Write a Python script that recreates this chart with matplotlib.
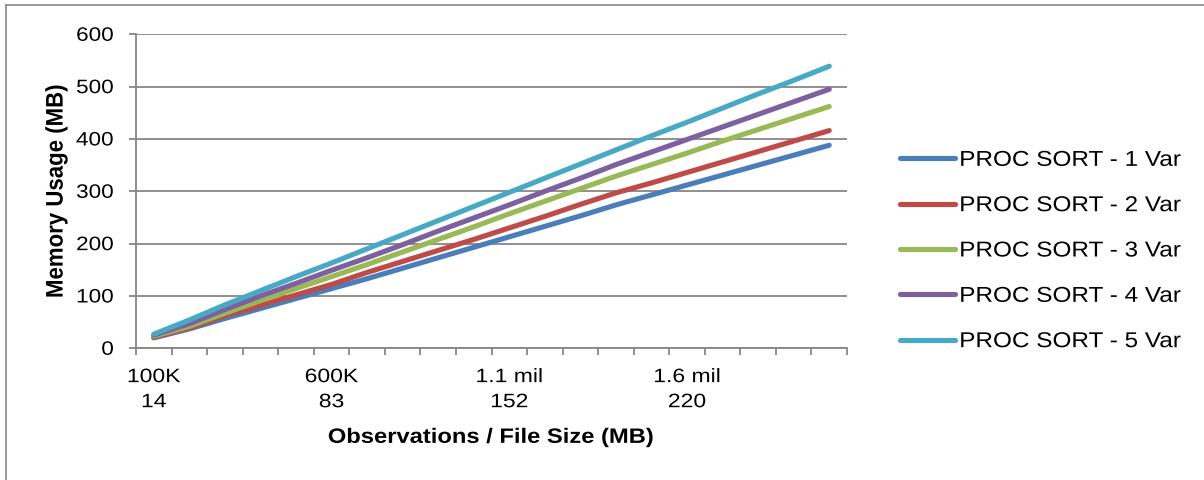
import matplotlib
matplotlib.use('Agg')
import matplotlib.pyplot as plt
from matplotlib.lines import Line2D
from matplotlib.patheffects import AbstractPathEffect
from matplotlib.transforms import Affine2D
import numpy as np

plt.rcParams['font.family'] = ['Liberation Sans', 'DejaVu Sans']

# memory usage (MB) for 100K .. 2.0 mil observations, step 100K
var1 = [20, 37, 57, 76, 95, 114, 133, 153, 173, 193, 213, 233, 253, 274, 293, 312, 331, 350, 369, 388]
var2 = [21, 39, 62, 82, 102, 122, 145, 166, 187, 208, 230, 252, 275, 297, 316, 336, 356, 376, 396, 416]
var3 = [23, 42, 67, 91, 114, 137, 160, 184, 208, 232, 257, 281, 305, 329, 351, 373, 396, 418, 440, 462]
var4 = [25, 47, 74, 100, 124, 149, 173, 198, 224, 249, 274, 300, 325, 351, 375, 399, 423, 447, 471, 495]
var5 = [27, 54, 83, 110, 137, 163, 190, 217, 244, 271, 298, 325, 352, 379, 406, 432, 459, 486, 512, 539]

series = [var1, var2, var3, var4, var5]
names = ['PROC SORT - 1 Var', 'PROC SORT - 2 Var', 'PROC SORT - 3 Var',
         'PROC SORT - 4 Var', 'PROC SORT - 5 Var']
colors = ['#4A7EBB', '#BE4B48', '#98B954', '#7D60A0', '#46AAC5']

label_cats = [0, 5, 10, 15]
label_text = ['100K\n14', '600K\n83', '1.1 mil\n152', '1.6 mil\n220']


# the original text looks horizontally widened, so stretch glyphs a bit
# (along the text for normal labels, across it for the rotated y label)
class Stretch(AbstractPathEffect):
    def __init__(self, s, anchor='center', across=False):
        super().__init__()
        self.s = s
        self.anchor = anchor
        self.across = across

    def draw_path(self, renderer, gc, tpath, affine, rgbFace=None):
        v = tpath.vertices
        if len(v) == 0:
            return
        if self.across:
            ref = (v[:, 1].min() + v[:, 1].max()) / 2
            t = Affine2D().translate(0, -ref).scale(1, self.s).translate(0, ref)
        else:
            xs = v[:, 0]
            if self.anchor == 'left':
                ref = xs.min()
            elif self.anchor == 'right':
                ref = xs.max()
            else:
                ref = (xs.min() + xs.max()) / 2
            t = Affine2D().translate(-ref, 0).scale(self.s, 1).translate(ref, 0)
        renderer.draw_path(gc, tpath, t + affine, rgbFace)


fig = plt.figure(figsize=(12.04, 4.8), dpi=100)
ax = fig.add_axes([136 / 1204, 1 - 348.3 / 480, 711 / 1204, 314 / 480])

x = np.arange(len(var1))
for s, n, c in zip(series, names, colors):
    ax.plot(x, s, color=c, lw=3.7, label=n, solid_capstyle='round', solid_joinstyle='round')

grid_c = '#868686'
ax.set_ylim(0, 600)
ax.set_yticks(range(0, 601, 100))
ax.set_xlim(-0.5, len(var1) - 0.5)
ax.set_xticks(label_cats)
ax.set_xticklabels(label_text, linespacing=1.62)
ax.set_xticks(np.arange(-0.5, len(var1), 1), minor=True)

ax.yaxis.grid(True, color=grid_c, lw=1.3)
ax.set_axisbelow(True)
for sp in ['top', 'right']:
    ax.spines[sp].set_visible(False)
for sp in ['left', 'bottom']:
    ax.spines[sp].set_color(grid_c)
    ax.spines[sp].set_linewidth(1.3)

ax.tick_params(axis='y', length=5, width=1.3, color=grid_c, pad=11, labelsize=14)
ax.tick_params(axis='x', which='major', length=0, pad=15, labelsize=14)
ax.tick_params(axis='x', which='minor', length=5, width=1.3, color=grid_c)

ax.set_ylabel('Memory Usage (MB)', fontsize=16, fontweight='bold', labelpad=10)
ax.set_xlabel('Observations / File Size (MB)', fontsize=15, fontweight='bold', labelpad=12)

for lbl in ax.get_yticklabels():
    lbl.set_path_effects([Stretch(1.16, 'right')])
for lbl in ax.get_xticklabels():
    lbl.set_path_effects([Stretch(1.18)])
ax.xaxis.label.set_path_effects([Stretch(1.14)])
ax.yaxis.label.set_path_effects([Stretch(1.08, across=True)])

leg = ax.legend(loc='center left', bbox_to_anchor=(900 / 1204, 1 - 251 / 480),
                bbox_transform=fig.transFigure, frameon=False, fontsize=15.5,
                handlelength=2.55, handletextpad=0.2, labelspacing=1.13,
                borderpad=0, borderaxespad=0)
for t in leg.get_texts():
    t.set_path_effects([Stretch(1.13, 'left')])

# outer chart border (top and left edges only visible)
fig.add_artist(Line2D([6 / 1204, 6 / 1204], [0, 1 - 5 / 480], color='#878787', lw=1.2))
fig.add_artist(Line2D([6 / 1204, 1], [1 - 5 / 480, 1 - 5 / 480], color='#878787', lw=1.2))

fig.savefig('out.png', dpi=100)
